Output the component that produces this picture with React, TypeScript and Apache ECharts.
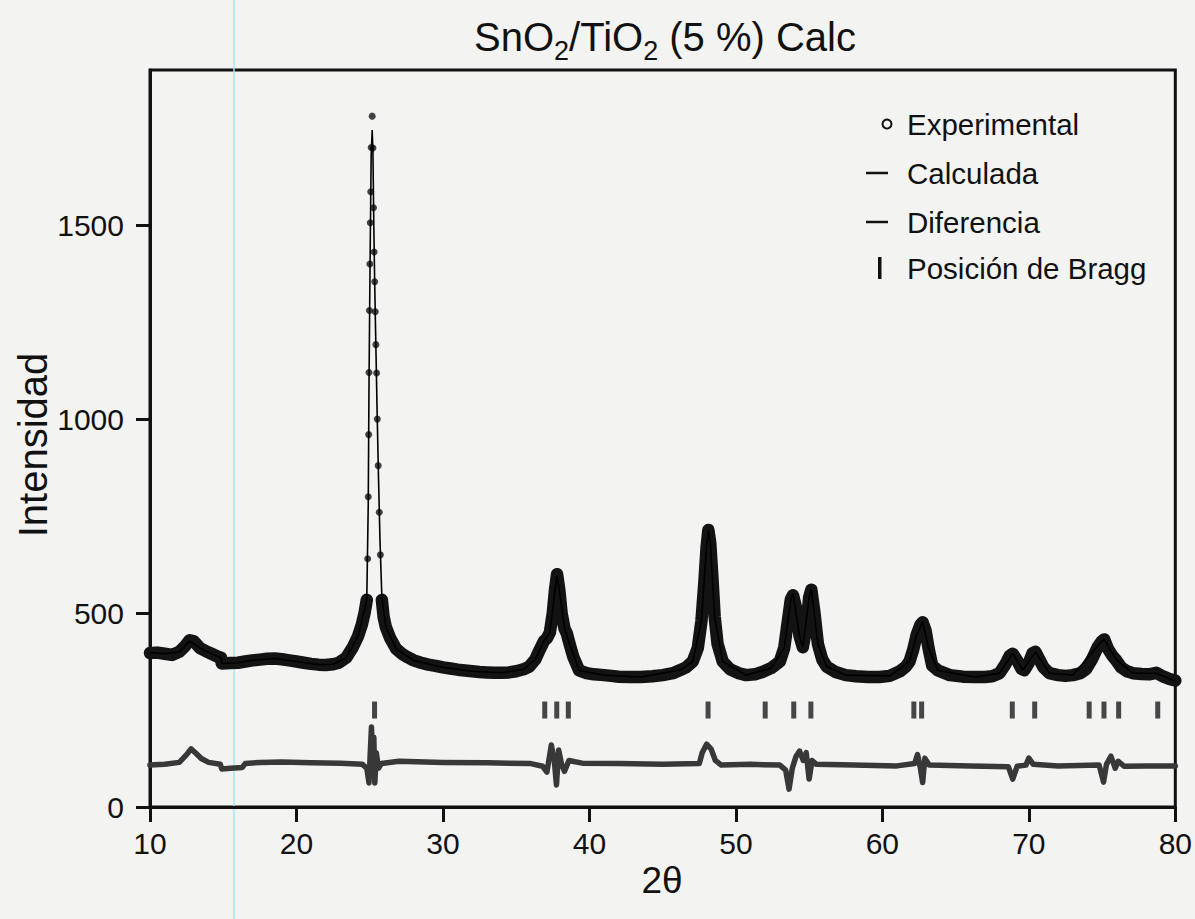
import React, { useEffect, useRef } from "react";
import * as echarts from "echarts";

const FONT = '"Liberation Sans", Arial, Helvetica, sans-serif';

// Experimental pattern (2θ, intensity)
const experimental: number[][] = [
  [10.0, 397], [10.5, 398], [11.0, 395], [11.5, 392], [12.0, 400], [12.4, 415], [12.7, 430], [13.0, 427],
  [13.4, 410], [13.8, 402], [14.2, 395], [14.6, 388], [14.85, 385], [14.9, 370], [15.5, 371], [16.0, 372],
  [16.5, 375], [17.0, 378], [17.5, 380], [18.0, 382], [18.5, 383], [19.0, 381], [19.5, 378], [20.0, 375],
  [20.5, 372], [21.0, 369], [21.5, 367], [22.0, 366], [22.5, 368], [22.9, 372], [23.4, 385], [23.85, 412],
  [24.2, 440], [24.46, 470], [24.65, 500], [24.8, 534],
  [24.86, 640], [24.9, 800], [24.93, 960], [24.95, 1120], [24.98, 1280], [25.01, 1400], [25.04, 1506],
  [25.07, 1586], [25.1, 1700], [25.17, 1781], [25.22, 1699], [25.26, 1545], [25.3, 1431], [25.34, 1354],
  [25.38, 1277], [25.42, 1192], [25.47, 1119], [25.52, 1000], [25.58, 880], [25.65, 760], [25.73, 650],
  [25.83, 534], [25.95, 490], [26.1, 464], [26.4, 435], [26.8, 408], [27.2, 395], [27.6, 386], [28.0, 378],
  [28.5, 372], [29.0, 367], [29.5, 364], [30.0, 360], [30.5, 357], [31.0, 354], [31.5, 352], [32.0, 350],
  [32.5, 348], [33.0, 347], [33.5, 346], [34.0, 346], [34.5, 347], [35.0, 350], [35.5, 355], [35.9, 362],
  [36.3, 380], [36.6, 405], [36.9, 428], [37.1, 435], [37.3, 450], [37.5, 500], [37.65, 560], [37.79, 600],
  [37.95, 558], [38.1, 500], [38.3, 460], [38.45, 448], [38.65, 420], [38.9, 387], [39.3, 352], [39.8, 345],
  [40.3, 342], [41.0, 340], [41.5, 338], [42.0, 336], [42.75, 335], [43.5, 335], [44.3, 337], [45.0, 340],
  [45.7, 345], [46.2, 353], [46.6, 360], [47.05, 375], [47.4, 410], [47.65, 480], [47.85, 580], [48.0, 670],
  [48.12, 714], [48.25, 680], [48.4, 590], [48.55, 490], [48.75, 420], [49.1, 375], [49.6, 355], [50.2, 345],
  [50.7, 340], [51.3, 342], [51.8, 348], [52.4, 358], [53.0, 375], [53.3, 410], [53.55, 480], [53.75, 535],
  [53.9, 546], [54.1, 515], [54.35, 440], [54.57, 412], [54.8, 460], [55.0, 540], [55.15, 560], [55.35, 505],
  [55.6, 420], [55.9, 380], [56.2, 362], [56.8, 348], [57.5, 340], [58.2, 337], [59.0, 335], [59.8, 335],
  [60.5, 338], [61.2, 350], [61.6, 362], [61.85, 375], [62.1, 405], [62.35, 445], [62.6, 470], [62.75, 476],
  [62.95, 455], [63.15, 410], [63.4, 365], [63.8, 352], [64.6, 340], [65.5, 336], [66.3, 335], [67.0, 335],
  [67.5, 337], [68.0, 345], [68.4, 368], [68.7, 390], [68.9, 395], [69.2, 378], [69.5, 356], [69.7, 353],
  [70.0, 372], [70.25, 396], [70.45, 400], [70.7, 382], [71.0, 360], [71.4, 345], [72.0, 340], [72.5, 338],
  [73.0, 340], [73.5, 345], [73.9, 355], [74.3, 380], [74.7, 412], [75.0, 428], [75.15, 432], [75.4, 408],
  [75.7, 390], [75.97, 378], [76.3, 360], [76.7, 350], [77.1, 345], [77.7, 343], [78.2, 342], [78.7, 346],
  [79.2, 336], [79.6, 330], [80.0, 326],
];

// Calculated profile
const calculated: number[][] = [
  [10, 398], [11, 395], [12, 400], [12.7, 428], [13.4, 410], [14.2, 395], [14.85, 385], [14.9, 370],
  [16, 372], [17, 378], [18.5, 383], [20, 375], [21.5, 367], [22.5, 368], [23.4, 385], [24.2, 440],
  [24.8, 534], [24.9, 780], [24.95, 1080], [25.0, 1300], [25.05, 1500], [25.1, 1680], [25.17, 1745],
  [25.22, 1690], [25.28, 1500], [25.34, 1350], [25.42, 1190], [25.5, 1030], [25.6, 850], [25.7, 690],
  [25.83, 540], [26.1, 464], [26.8, 408], [28, 378], [30, 360], [32, 350], [34, 346], [35.5, 355],
  [36.3, 380], [36.9, 428], [37.3, 450], [37.65, 560], [37.79, 598], [37.95, 558], [38.3, 460], [38.65, 420],
  [39.3, 352], [41, 340], [43.5, 335], [46.2, 353], [47.05, 375], [47.65, 480], [48.0, 675], [48.12, 712],
  [48.25, 685], [48.55, 490], [49.1, 375], [50.7, 340], [52.4, 358], [53.3, 410], [53.75, 535], [53.9, 550],
  [54.35, 440], [54.57, 412], [55.0, 540], [55.15, 562], [55.6, 420], [56.2, 362], [57.5, 340], [60.5, 338],
  [61.85, 375], [62.35, 445], [62.75, 477], [63.15, 410], [63.8, 352], [66.3, 335], [68.0, 345], [68.9, 396],
  [69.6, 353], [70.45, 400], [71.4, 345], [73.0, 340], [74.7, 415], [75.15, 432], [75.97, 380], [77.1, 345],
  [78.7, 345], [80, 325],
];

// Difference curve (offset)
const difference: number[][] = [
  [10.0, 108], [11.0, 110], [12.0, 115], [12.5, 135], [12.8, 150], [13.1, 140], [13.5, 125], [14.0, 115],
  [14.8, 110], [14.9, 98], [15.5, 100], [16.3, 102], [16.5, 112], [17.5, 115], [19.0, 116], [21.0, 114],
  [23.0, 113], [24.5, 110], [24.8, 100], [24.95, 62], [25.05, 150], [25.12, 206], [25.2, 120], [25.28, 180],
  [25.35, 62], [25.45, 140], [25.6, 100], [25.8, 112], [27.0, 118], [30.0, 115], [33.0, 114], [36.0, 112],
  [36.8, 105], [37.1, 90], [37.4, 160], [37.6, 120], [37.75, 57], [37.9, 147], [38.1, 110], [38.3, 92],
  [38.6, 120], [39.5, 113], [42.0, 112], [45.0, 110], [47.5, 112], [47.7, 140], [48.0, 162], [48.3, 150],
  [48.6, 120], [49.0, 108], [51.0, 110], [53.0, 108], [53.4, 95], [53.63, 46], [53.85, 100], [54.1, 130],
  [54.35, 144], [54.6, 120], [54.8, 140], [55.0, 72], [55.2, 120], [55.5, 110], [58.0, 108], [61.0, 106],
  [62.2, 112], [62.4, 135], [62.6, 100], [62.75, 63], [62.9, 126], [63.2, 108], [66.0, 106], [68.6, 104],
  [68.9, 72], [69.2, 105], [69.8, 108], [70.0, 126], [70.3, 110], [72.0, 106], [74.8, 108], [75.1, 64],
  [75.3, 110], [75.6, 131], [75.9, 100], [76.1, 118], [76.5, 105], [78.0, 106], [80.0, 106],
];

// Bragg reflection positions
const braggPositions: number[] = [
  25.33, 36.95, 37.77, 38.56, 48.1, 52.0, 53.95, 55.12, 62.15, 62.68, 68.87, 70.4, 74.12, 75.13, 76.13, 78.8,
];
const braggLevel = 250;

const yTicks = [0, 500, 1000, 1500];
const xTicks = [10, 20, 30, 40, 50, 60, 70, 80];
const legendLabels = ["Experimental", "Calculada", "Diferencia", "Posición de Bragg"];
const mainPeak = [24.8, 25.83];

export default function App() {
  const ref = useRef<HTMLDivElement>(null);

  useEffect(() => {
    document.body.style.margin = "0";
    document.body.style.overflow = "hidden";
    if (!ref.current) return;
    const chart = echarts.init(ref.current, undefined, { renderer: "svg" });

    const inPeak = (x: number) => x > mainPeak[0] && x < mainPeak[1];
    const bandData = experimental.map((p) => (inPeak(p[0]) ? [p[0], "-"] : p));
    const peakDots = experimental.filter((p) => inPeak(p[0]));

    const legendY = [124, 173, 222, 268];
    const plain = (v: number) => String(v);

    chart.setOption({
      animation: false,
      backgroundColor: "#f3f3f2",
      textStyle: { fontFamily: FONT },
      title: {
        text: "{a|SnO}{s|2}{a|/TiO}{s|2}{a| (5 %) Calc}",
        left: 660,
        top: 5,
        textAlign: "center",
        textStyle: {
          fontWeight: "normal",
          rich: {
            a: { fontSize: 40, fontFamily: FONT, fontWeight: "normal", color: "#111", lineHeight: 54, verticalAlign: "middle" },
            s: { fontSize: 27, fontFamily: FONT, fontWeight: "normal", color: "#111", lineHeight: 27, verticalAlign: "bottom" },
          },
        },
      },
      grid: {
        left: 150,
        right: 19,
        top: 70,
        bottom: 112,
        show: true,
        borderColor: "#111",
        borderWidth: 3,
        backgroundColor: "transparent",
      },
      xAxis: {
        type: "value",
        min: 10,
        max: 80,
        interval: 10,
        axisLine: { show: true, onZero: false, lineStyle: { color: "#111", width: 3 } },
        axisTick: { show: true, inside: false, length: 15, customValues: xTicks, lineStyle: { color: "#111", width: 3 } },
        axisLabel: { fontSize: 30, color: "#111", margin: 21, fontFamily: FONT, customValues: xTicks, formatter: plain },
        splitLine: { show: false },
      },
      yAxis: {
        type: "value",
        min: 0,
        max: 1900,
        interval: 500,
        axisLine: { show: true, lineStyle: { color: "#111", width: 3 } },
        axisTick: { show: true, inside: false, length: 14, customValues: yTicks, lineStyle: { color: "#111", width: 3 } },
        axisLabel: { fontSize: 30, color: "#111", margin: 26, fontFamily: FONT, customValues: yTicks, formatter: plain },
        splitLine: { show: false },
      },
      series: [
        {
          name: legendLabels[2],
          type: "line",
          data: difference,
          showSymbol: false,
          lineStyle: { color: "#383838", width: 5.5, join: "round", cap: "round" },
          z: 2,
        },
        {
          name: legendLabels[3],
          type: "scatter",
          data: braggPositions.map((x) => [x, braggLevel]),
          symbol: "rect",
          symbolSize: [5, 17],
          itemStyle: { color: "#1a1a1a" },
          z: 3,
        },
        {
          name: legendLabels[0],
          type: "line",
          data: bandData,
          connectNulls: false,
          showSymbol: false,
          lineStyle: { color: "#131313", width: 12.5, join: "round", cap: "round" },
          z: 4,
        },
        {
          name: legendLabels[0] + " pico",
          type: "scatter",
          data: peakDots,
          symbol: "circle",
          symbolSize: 7,
          itemStyle: { color: "#141414" },
          z: 5,
        },
        {
          name: legendLabels[1],
          type: "line",
          data: calculated,
          showSymbol: false,
          lineStyle: { color: "#000", width: 1.6 },
          z: 6,
        },
      ],
      graphic: [
        {
          type: "line",
          shape: { x1: 234, y1: 0, x2: 234, y2: 919 },
          style: { stroke: "#a5e6f0", lineWidth: 1.5 },
          z: 0,
          silent: true,
        },
        {
          type: "text",
          x: 33,
          y: 445,
          rotation: Math.PI / 2,
          style: {
            text: "Intensidad",
            font: `40px ${FONT}`,
            fill: "#111",
            textAlign: "center",
            textVerticalAlign: "middle",
          },
        },
        {
          type: "text",
          x: 662,
          y: 880,
          style: {
            text: "2θ",
            font: `37px ${FONT}`,
            fill: "#111",
            textAlign: "center",
            textVerticalAlign: "middle",
          },
        },
        {
          type: "circle",
          shape: { cx: 887, cy: legendY[0], r: 4.5 },
          style: { fill: "none", stroke: "#111", lineWidth: 2 },
        },
        {
          type: "line",
          shape: { x1: 866, y1: legendY[1], x2: 888, y2: legendY[1] },
          style: { stroke: "#111", lineWidth: 2.5 },
        },
        {
          type: "line",
          shape: { x1: 866, y1: legendY[2], x2: 888, y2: legendY[2] },
          style: { stroke: "#111", lineWidth: 2.5 },
        },
        {
          type: "rect",
          shape: { x: 878, y: legendY[3] - 11, width: 3.5, height: 22 },
          style: { fill: "#111" },
        },
        ...legendLabels.map((t, i) => ({
          type: "text",
          x: 907,
          y: legendY[i],
          style: {
            text: t,
            font: `29.5px ${FONT}`,
            fill: "#111",
            textAlign: "left",
            textVerticalAlign: "middle",
          },
        })),
      ],
    });

    return () => chart.dispose();
  }, []);

  return <div ref={ref} style={{ width: 1195, height: 919 }} />;
}
